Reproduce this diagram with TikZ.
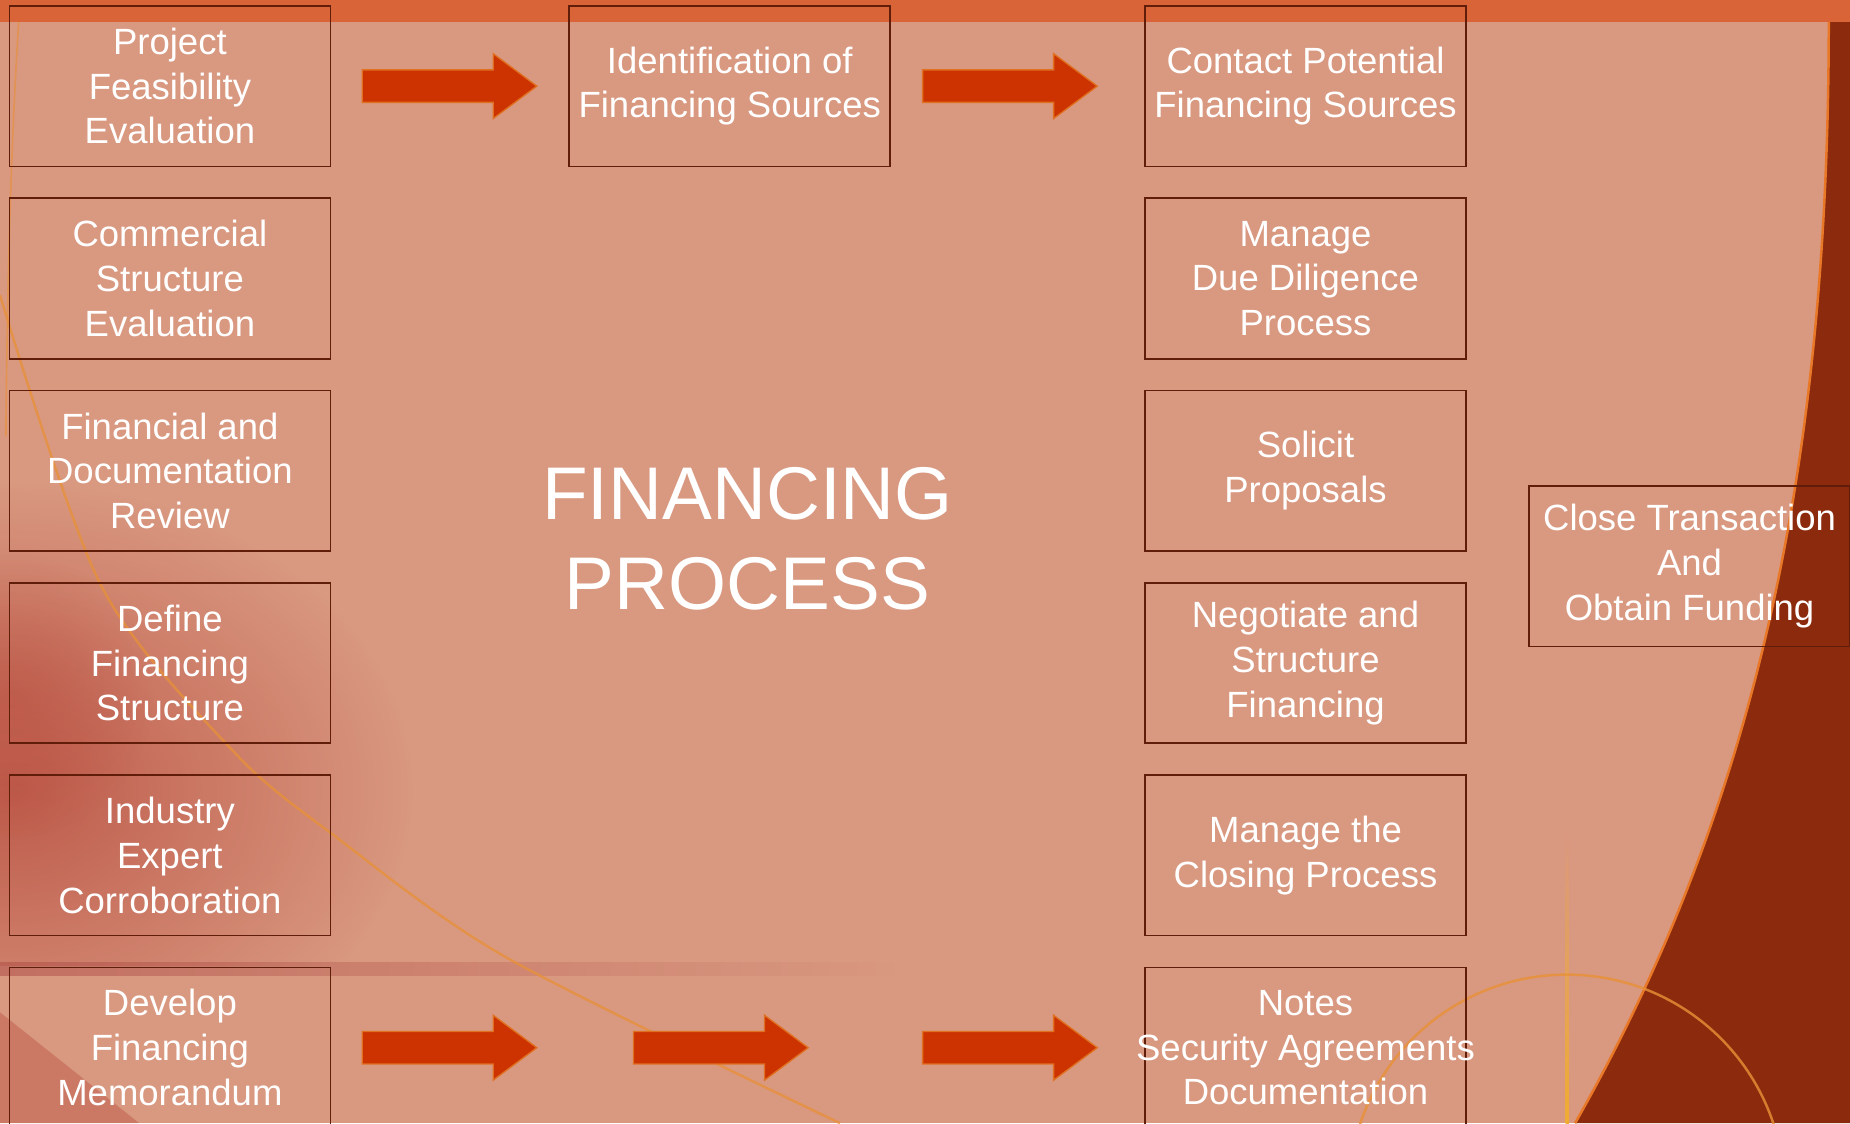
\documentclass[tikz,border=0pt]{standalone}
\usepackage{fontspec}
\setmainfont{Liberation Sans}
\usepackage{xcolor}
\definecolor{slide-bg}{RGB}{217,152,128}
\definecolor{band-orange}{RGB}{216,100,55}
\definecolor{right-brown}{RGB}{139,42,12}
\definecolor{edge-orange}{RGB}{232,120,40}
\definecolor{box-line}{RGB}{96,30,10}
\definecolor{arrow-red}{RGB}{204,51,0}
\definecolor{arrow-edge}{RGB}{224,112,32}
\definecolor{gold-line}{RGB}{240,172,50}
\definecolor{arc-orange}{RGB}{232,145,55}
\definecolor{left-red}{RGB}{184,76,62}
\definecolor{stripe-red}{RGB}{175,78,72}
\usetikzlibrary{calc,fadings}
\tikzfading[name=fade right, left color=transparent!0, right color=transparent!100]
\tikzfading[name=soft blob, inner color=transparent!0, outer color=transparent!100]
\tikzset{
	stepbox/.style={draw=box-line, line width=1pt, minimum width=6.8cm,
		minimum height=3.4cm, inner sep=0pt, align=center, text=white,
		font=\fontsize{22}{27}\selectfont},
	titletext/.style={align=center, text=white, font=\fontsize{45}{54}\selectfont},
	bigarrow/.style={fill=arrow-red, draw=arrow-edge, line width=.8pt, line join=miter}
}

\begin{document}
\begin{tikzpicture}[x=0.025cm,y=-0.025cm]
	\useasboundingbox (0,0) rectangle (1568,952);
	
	% slide background
	\begin{scope}
		\clip (0,0) rectangle (1568,952);
		\fill[slide-bg] (0,0) rectangle (1568,952);
		\begin{scope}
			\clip (0,0) rectangle (900,818);
			\fill[left-red, opacity=.8, path fading=soft blob] (10,670) ellipse [x radius=8.5cm, y radius=6.5cm];
			\fill[left-red, opacity=.5, path fading=soft blob] (10,590) ellipse [x radius=3cm, y radius=3cm];
		\end{scope}
		\fill[left-red, opacity=.4] (0,858) -- (118,952) -- (0,952) -- cycle;
		\fill[stripe-red, opacity=.55, path fading=fade right] (0,815) rectangle (760,827);
		\draw[arc-orange, line width=1.5pt, opacity=.75] plot[smooth] coordinates
			{(0,250) (85,495) (198,637) (283,708) (430,812) (712,952)};
		\draw[arc-orange, line width=1pt, opacity=.6] (17,0) .. controls (9,120) and (6,250) .. (5,370);
		
		\fill[right-brown] (1550,18) .. controls (1550,420) and (1478,700) .. (1335,952)
			-- (1568,952) -- (1568,18) -- cycle;
		\draw[edge-orange, line width=1.5pt] (1550,18) .. controls (1550,420) and (1478,700) .. (1335,952);
		\shade[top color=slide-bg, bottom color=gold-line] (1327,705) rectangle (1330,952);
		\draw[arc-orange, line width=1.5pt, opacity=.8] (1328,1010.5) circle[radius=4.61cm];
		\fill[band-orange] (0,0) rectangle (1568,19);
	\end{scope}
	
	% left column
	\node[stepbox] (pfe) at (144,73) {Project\\Feasibility\\Evaluation};
	\node[stepbox] (cse) at (144,236) {Commercial\\Structure\\Evaluation};
	\node[stepbox] (fdr) at (144,399) {Financial and\\Documentation\\Review};
	\node[stepbox] (dfs) at (144,562) {Define\\Financing\\Structure};
	\node[stepbox] (iec) at (144,725) {Industry\\Expert\\Corroboration};
	\node[stepbox] (dfm) at (144,888) {Develop\\Financing\\Memorandum};
	
	\node[stepbox] (ifs) at (618.5,73) {Identification of\\Financing Sources};
	\node[titletext] (fproc) at (633.5,456.5) {FINANCING\\PROCESS};
	
	% right column
	\node[stepbox] (cpf) at (1106.5,73) {Contact Potential\\Financing Sources};
	\node[stepbox] (mdd) at (1106.5,236) {Manage\\Due Diligence\\Process};
	\node[stepbox] (sop) at (1106.5,399) {Solicit\\Proposals};
	\node[stepbox] (nsf) at (1106.5,562) {Negotiate and\\Structure\\Financing};
	\node[stepbox] (mcp) at (1106.5,725) {Manage the\\Closing Process};
	\node[stepbox] (nsa) at (1106.5,888) {Notes\\\makebox[0pt]{Security Agreements}\\Documentation};
	
	\node[stepbox] (cto) at (1432,480) {Close Transaction\\And\\Obtain Funding};
	
	\foreach \tip in {(455,73),(930,73),(455,888),(685,888),(930,888)} {
		\draw[bigarrow] \tip -- ++(-37,-27.5) -- ++(0,13.75) -- ++(-111,0)
			-- ++(0,27.5) -- ++(111,0) -- ++(0,13.75) -- cycle;
	}
\end{tikzpicture}
\end{document}
